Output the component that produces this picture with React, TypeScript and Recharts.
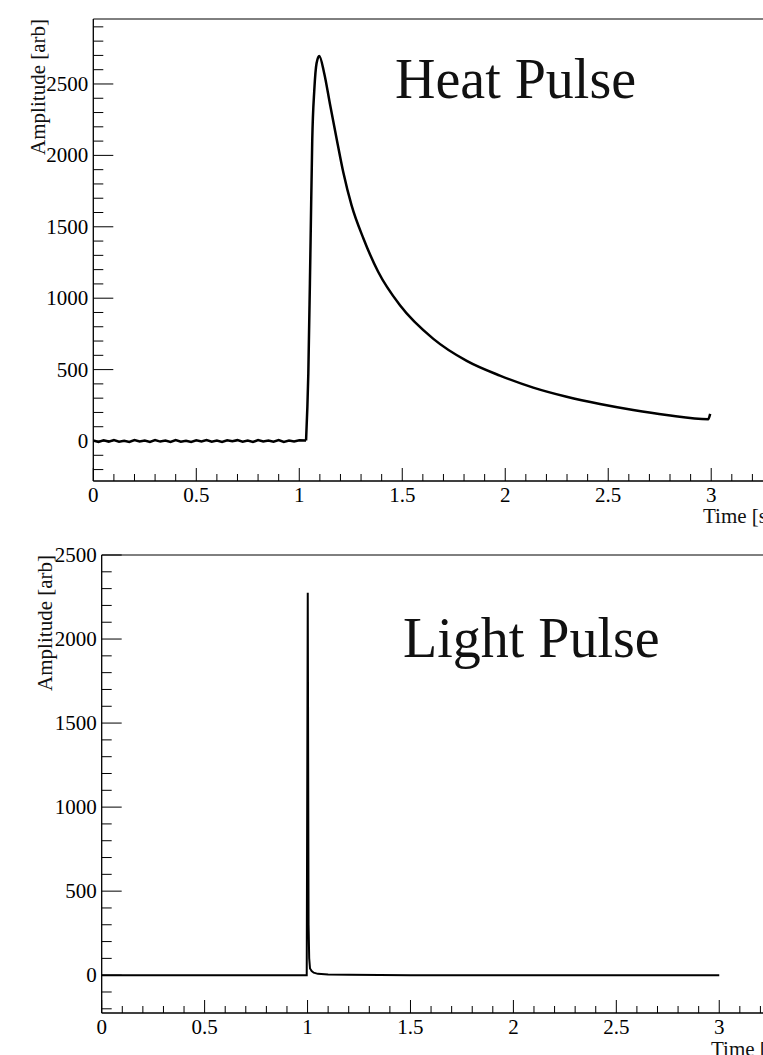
import { LineChart, Line, XAxis, YAxis, ReferenceArea } from 'recharts';

// Heat pulse, pre-trigger baseline (noisy, around 0)
const heatBaseTime = [
  0, 0.025, 0.05, 0.075, 0.1, 0.125, 0.15, 0.175, 0.2, 0.225, 0.25, 0.275, 0.3, 0.325, 0.35, 0.375, 0.4, 0.425,
  0.45, 0.475, 0.5, 0.525, 0.55, 0.575, 0.6, 0.625, 0.65, 0.675, 0.7, 0.725, 0.75, 0.775, 0.8, 0.825, 0.85, 0.875,
  0.9, 0.925, 0.95, 0.975, 1.0, 1.033,
];
const heatBaseAmp = [
  3, -6, 5, -4, 7, -5, 2, -7, 6, -3, 4, -7, 6, -4, 3, -6, 7, -5, 2, -7, 5, -3, 6, -5, 3, -7, 5, -2, 6, -5,
  3, -7, 7, -3, 4, -5, 7, -6, 3, -4, 5, 4,
];

// Heat pulse, rise and decay
const heatPulseTime = [
  1.033, 1.044, 1.055, 1.063, 1.073, 1.084, 1.097, 1.121, 1.149, 1.182, 1.214, 1.254, 1.311, 1.383, 1.489,
  1.651, 1.813, 1.974, 2.136, 2.298, 2.46, 2.621, 2.783, 2.985, 2.995,
];
const heatPulseAmp = [
  4, 474, 1408, 2108, 2458, 2645, 2696, 2575, 2360, 2112, 1880, 1650, 1420, 1185, 950,
  715, 561, 458, 374, 310, 259, 217, 182, 152, 190,
];

// Light pulse
const lightTime = [0, 0.5, 0.99, 0.996, 1.001, 1.005, 1.008, 1.012, 1.02, 1.03, 1.05, 1.1, 1.2, 1.5, 2.0, 2.5, 3.0];
const lightAmp = [0, 0, 0, 0, 2276, 300, 100, 40, 25, 15, 8, 4, 2, 0, 0, 0, 0];

const xMajor = [0, 0.5, 1, 1.5, 2, 2.5, 3];
const xTicks = Array.from({ length: 33 }, (_, i) => i / 10);
const yMajor = [0, 500, 1000, 1500, 2000, 2500];
const heatYTicks = Array.from({ length: 32 }, (_, i) => -200 + i * 100);
const lightYTicks = Array.from({ length: 28 }, (_, i) => -200 + i * 100);

const heatBaseData = heatBaseTime.map((t, i) => ({ t, v: heatBaseAmp[i] }));
const heatPulseData = heatPulseTime.map((t, i) => ({ t, v: heatPulseAmp[i] }));
const lightData = lightTime.map((t, i) => ({ t, v: lightAmp[i] }));

const FONT = '"Liberation Serif", "Times New Roman", serif';

function XTick(props: any) {
  const { x, y, payload } = props;
  const v = payload.value;
  const major = xMajor.some((m) => Math.abs(m - v) < 1e-6);
  return (
    <g>
      <line x1={x} y1={y} x2={x} y2={y - (major ? 13 : 7)} stroke="#000" strokeWidth={1} />
      {major && (
        <text x={x} y={y + 21} textAnchor="middle" fontFamily={FONT} fontSize={21} fill="#000">
          {String(v)}
        </text>
      )}
    </g>
  );
}

function YTick(props: any) {
  const { x, y, payload } = props;
  const v = payload.value;
  const major = yMajor.includes(v);
  return (
    <g>
      <line x1={x} y1={y} x2={x + (major ? 20 : 10)} y2={y} stroke="#000" strokeWidth={1} />
      {major && (
        <text x={x - 5} y={y} dy="0.33em" textAnchor="end" fontFamily={FONT} fontSize={21} fill="#000">
          {String(v)}
        </text>
      )}
    </g>
  );
}

export default function App() {
  return (
    <div style={{ position: 'absolute', left: 0, top: 0, width: 763, height: 1055, overflow: 'hidden', background: '#fff' }}>
      <div style={{ position: 'absolute', left: 0, top: 0 }}>
        <LineChart width={783} height={530} margin={{ top: 19, right: 10, left: 0, bottom: 0 }}>
          <XAxis
            dataKey="t"
            type="number"
            domain={[0, 3.3]}
            ticks={xTicks}
            interval={0}
            allowDataOverflow
            height={49}
            tickSize={0}
            tickMargin={0}
            tick={<XTick />}
            axisLine={{ stroke: '#000' }}
          />
          <YAxis
            type="number"
            domain={[-280, 2955]}
            ticks={heatYTicks}
            interval={0}
            allowDataOverflow
            width={93.3}
            tickSize={0}
            tickMargin={0}
            tick={<YTick />}
            axisLine={{ stroke: '#000' }}
          />
          <ReferenceArea x1={0} x2={3.3} y1={-280} y2={2955} fill="none" stroke="#000" strokeWidth={1} />
          <Line data={heatBaseData} dataKey="v" type="linear" stroke="#000" strokeWidth={2.5} dot={false} isAnimationActive={false} />
          <Line data={heatPulseData} dataKey="v" type="monotone" stroke="#000" strokeWidth={2.5} dot={false} isAnimationActive={false} />
        </LineChart>
      </div>
      <div style={{ position: 'absolute', left: 0, top: 540 }}>
        <LineChart width={791} height={515} data={lightData} margin={{ top: 15, right: 10, left: 0, bottom: 0 }}>
          <XAxis
            dataKey="t"
            type="number"
            domain={[0, 3.3]}
            ticks={xTicks}
            interval={0}
            allowDataOverflow
            height={42}
            tickSize={0}
            tickMargin={0}
            tick={<XTick />}
            axisLine={{ stroke: '#000' }}
          />
          <YAxis
            type="number"
            domain={[-225, 2500]}
            ticks={lightYTicks}
            interval={0}
            allowDataOverflow
            width={101.7}
            tickSize={0}
            tickMargin={0}
            tick={<YTick />}
            axisLine={{ stroke: '#000' }}
          />
          <ReferenceArea x1={0} x2={3.3} y1={-225} y2={2500} fill="none" stroke="#000" strokeWidth={1} />
          <Line dataKey="v" type="linear" stroke="#000" strokeWidth={2} dot={false} isAnimationActive={false} />
        </LineChart>
      </div>
      <svg width={763} height={1055} style={{ position: 'absolute', left: 0, top: 0, pointerEvents: 'none' }}>
        <g fontFamily={FONT} fill="#111">
          <text x={395} y={98} fontSize={56}>Heat Pulse</text>
          <text x={403} y={657} fontSize={56}>Light Pulse</text>
          <text x={774} y={523} fontSize={21} textAnchor="end">Time [s]</text>
          <text x={782} y={1056} fontSize={21} textAnchor="end">Time [s]</text>
          <text transform="translate(45,19) rotate(-90)" fontSize={21} textAnchor="end">Amplitude [arb]</text>
          <text transform="translate(52,555) rotate(-90)" fontSize={21} textAnchor="end">Amplitude [arb]</text>
        </g>
      </svg>
    </div>
  );
}
